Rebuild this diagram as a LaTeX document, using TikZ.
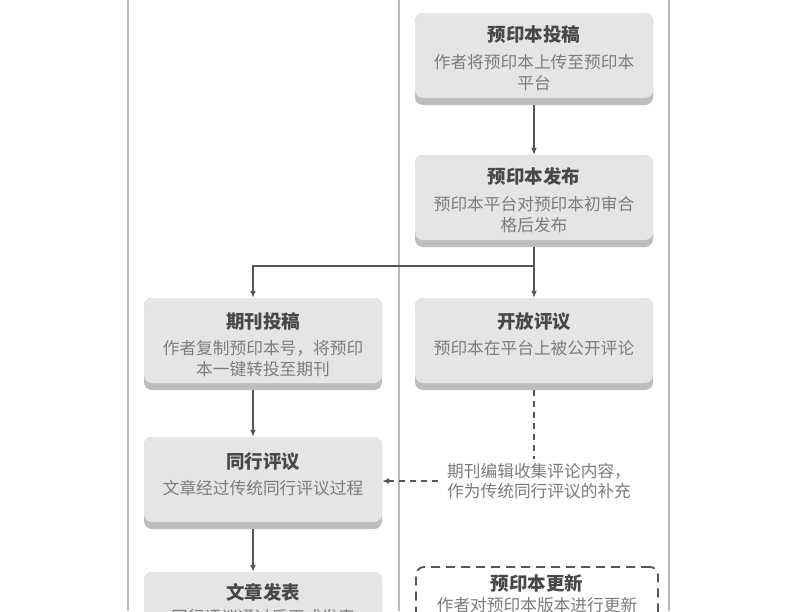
\documentclass[tikz,border=0pt]{standalone}
\usepackage{fontspec}
\newfontfamily\cjk{Noto Sans CJK SC}
\usetikzlibrary{arrows.meta,calc}
\definecolor{boxc}{HTML}{E5E5E5}
\definecolor{shadowc}{HTML}{BDBDBD}
\definecolor{titc}{HTML}{484848}
\definecolor{subc}{HTML}{7C7C7C}
\definecolor{linec}{HTML}{555555}
\definecolor{gridc}{HTML}{B8B8B8}
\tikzset{
  box/.style={minimum width=238pt, minimum height=92pt, inner sep=0pt, rounded corners=8pt,
    fill=shadowc,
    path picture={\fill[boxc, rounded corners=8pt] (path picture bounding box.north west) rectangle ([yshift=7pt]path picture bounding box.south east);}},
  dbox/.style={minimum width=242pt, minimum height=90pt, inner sep=0pt, rounded corners=8pt,
    draw=linec, line width=1.8pt, dash pattern=on 9pt off 6pt, fill=white},
  ttl/.style={font=\cjk\bfseries\fontsize{18.5}{22}\selectfont, text=titc, inner sep=0pt},
  sub/.style={font=\cjk\fontsize{16.7}{21}\selectfont, text=subc, inner sep=0pt, align=center, anchor=north},
  note/.style={font=\cjk\fontsize{16.7}{20}\selectfont, text=subc, inner xsep=9pt, inner ysep=0pt, align=left, anchor=west},
  arr/.style={draw=linec, line width=1.5pt, -{Latex[length=7pt,width=6pt]}},
  darr/.style={draw=linec, line width=1.6pt, dash pattern=on 6pt off 5pt},
  grid/.style={draw=gridc, line width=2pt}
}
\begin{document}
\begin{tikzpicture}[x=1pt,y=-1pt]
\useasboundingbox (0,0) rectangle (800,611);
\fill[white] (0,0) rectangle (800,611);
% column lines
\coordinate (g1t) at (128,0); \coordinate (g1b) at (128,611);
\coordinate (g2t) at (399,0); \coordinate (g2b) at (399,611);
\coordinate (g3t) at (669,0); \coordinate (g3b) at (669,611);
\draw[grid] (g1t) -- (g1b);
\draw[grid] (g2t) -- (g2b);
\draw[grid] (g3t) -- (g3b);
% boxes
\node[box] (b1) at (534,59) {};
\node[box] (b2) at (534,201) {};
\node[box] (b3) at (534,344) {};
\node[box] (l1) at (263,344) {};
\node[box] (l2) at (263,483) {};
\node[box] (l3) at (263,618) {};
\node[dbox] (d1) at (537,612) {};
% texts
\node[ttl] (b1t) at ([yshift=-22pt]b1.north) {预印本投稿};
\node[sub] (b1s) at ([yshift=-41pt]b1.north) {作者将预印本上传至预印本\\平台};
\node[ttl] (b2t) at ([yshift=-22pt]b2.north) {预印本发布};
\node[sub] (b2s) at ([yshift=-41pt]b2.north) {预印本平台对预印本初审合\\格后发布};
\node[ttl] (b3t) at ([yshift=-24pt]b3.north) {开放评议};
\node[sub] (b3s) at ([yshift=-42pt]b3.north) {预印本在平台上被公开评论};
\node[ttl] (l1t) at ([yshift=-24pt]l1.north) {期刊投稿};
\node[sub] (l1s) at ([yshift=-42pt]l1.north) {作者复制预印本号，将预印\\本一键转投至期刊};
\node[ttl] (l2t) at ([yshift=-25pt]l2.north) {同行评议};
\node[sub] (l2s) at ([yshift=-43pt]l2.north) {文章经过传统同行评议过程};
\node[ttl] (l3t) at ([yshift=-21pt]l3.north) {文章发表};
\node[sub] (l3s) at ([yshift=-37pt]l3.north) {同行评议通过后正式发表};
\node[ttl] (d1t) at ([yshift=-17pt]d1.north) {预印本更新};
\node[sub] (d1s) at ([yshift=-31pt]d1.north) {作者对预印本版本进行更新};
\node[note] (n1) at (438,481) {期刊编辑收集评论内容，\\作为传统同行评议的补充};
% connectors
\coordinate (j) at ($(b2.south)+(0,19)$);
\coordinate (l1in) at ([xshift=-10pt]l1.north);
\coordinate (l1out) at ([xshift=-10pt]l1.south);
\coordinate (l2in) at ([xshift=-10pt]l2.north);
\coordinate (l2out) at ([xshift=-10pt]l2.south);
\coordinate (l3in) at ([xshift=-10pt]l3.north);
\draw[arr] (b1.south) -- (b2.north);
\draw[arr] (b2.south) -- (b3.north);
\draw[arr] (j) -| (l1in);
\draw[arr] (l1out) -- (l2in);
\draw[arr] (l2out) -- (l3in);
\draw[darr] (b3.south) -- ([yshift=4pt]b3.south |- n1.north);
\draw[darr, -{Latex[length=7pt,width=6pt]}] (n1.west) -- (n1.west -| l2.east);
\end{tikzpicture}
\end{document}
